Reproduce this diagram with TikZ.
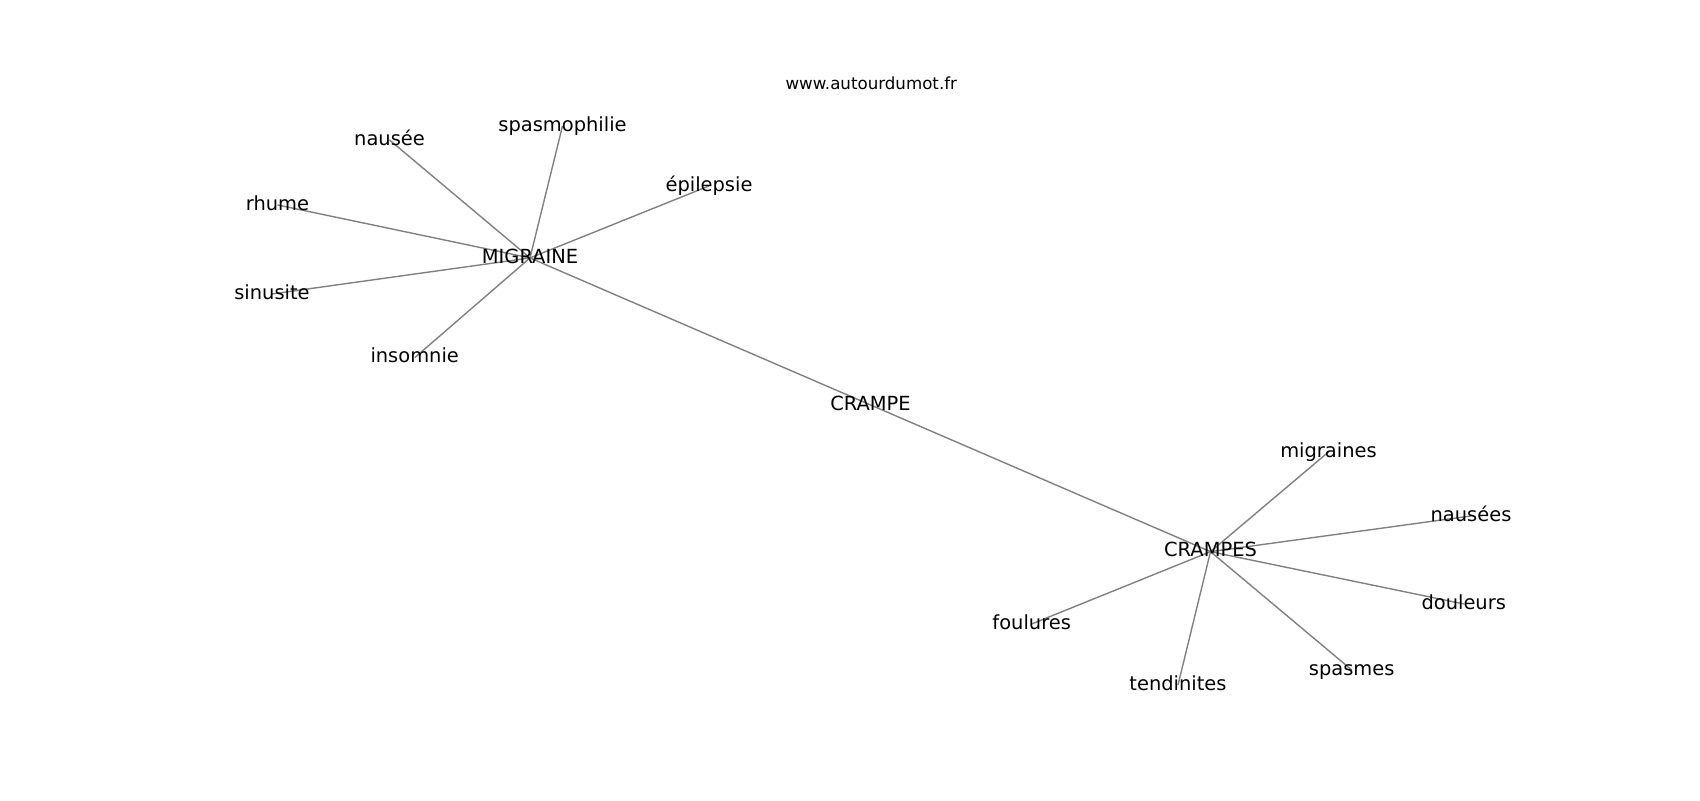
\documentclass[tikz,border=0pt]{standalone}
\usepackage{fontspec}
\setmainfont{DejaVu Sans}
\usetikzlibrary{backgrounds}
\begin{document}
\begin{tikzpicture}[x=0.72pt,y=-0.72pt,
  lbl/.style={anchor=base,inner sep=0pt,font=\fontsize{14}{16}\selectfont,text height=10.64pt,text depth=3.36pt},
  urlstyle/.style={anchor=base,inner sep=0pt,font=\fontsize{12}{14}\selectfont},
  edge/.style={draw=gray,line width=1pt}]
\useasboundingbox (0,0) rectangle (1700,800);
\node[urlstyle] (url) at (871.3,89.4) {www.autourdumot.fr};
\node[lbl] (migraine) at (530,263) {MIGRAINE};
\node[lbl] (crampe) at (870.5,410) {CRAMPE};
\node[lbl] (crampes) at (1210.5,556.7) {CRAMPES};
\node[lbl] (nausee) at (389.5,145) {nausée};
\node[lbl] (spasmo) at (562.5,131) {spasmophilie};
\node[lbl] (rhume) at (277.5,210) {rhume};
\node[lbl] (sinusite) at (272,299) {sinusite};
\node[lbl] (epilepsie) at (709,191) {épilepsie};
\node[lbl] (insomnie) at (414.7,362.7) {insomnie};
\node[lbl] (migraines) at (1328.5,457) {migraines};
\node[lbl] (foulures) at (1031.7,629) {foulures};
\node[lbl] (nausees) at (1471,521) {nausées};
\node[lbl] (douleurs) at (1463.7,609) {douleurs};
\node[lbl] (spasmes) at (1351.7,675) {spasmes};
\node[lbl] (tendinites) at (1178,690) {tendinites};
\begin{pgfonlayer}{background}
\fill[white] (0,0) rectangle (1700,800);
\draw[edge] (migraine.center) -- (crampe.center);
\draw[edge] (crampe.center) -- (crampes.center);
\draw[edge] (migraine.center) -- (nausee.center);
\draw[edge] (migraine.center) -- (spasmo.center);
\draw[edge] (migraine.center) -- (rhume.center);
\draw[edge] (migraine.center) -- (sinusite.center);
\draw[edge] (migraine.center) -- (epilepsie.center);
\draw[edge] (migraine.center) -- (insomnie.center);
\draw[edge] (crampes.center) -- (migraines.center);
\draw[edge] (crampes.center) -- (foulures.center);
\draw[edge] (crampes.center) -- (nausees.center);
\draw[edge] (crampes.center) -- (douleurs.center);
\draw[edge] (crampes.center) -- (spasmes.center);
\draw[edge] (crampes.center) -- (tendinites.center);
\end{pgfonlayer}
\end{tikzpicture}
\end{document}
